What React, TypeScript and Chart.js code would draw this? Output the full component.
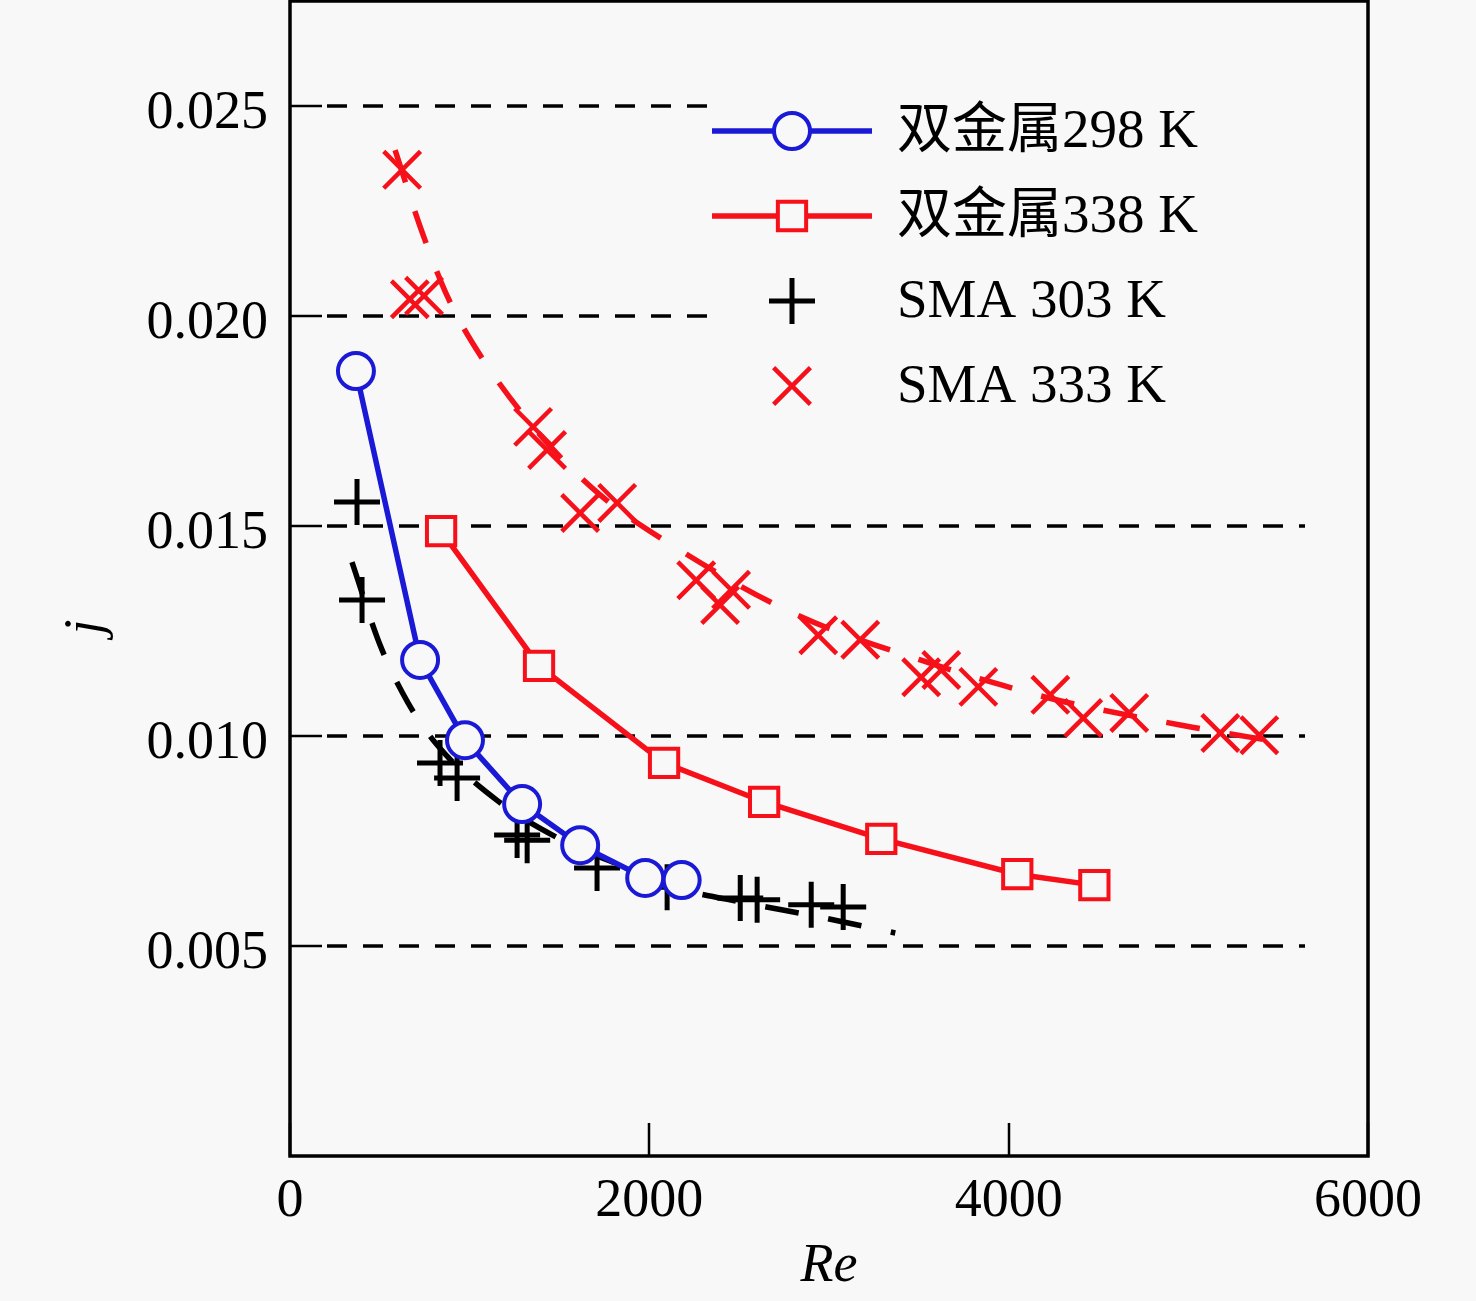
import { useEffect, useRef } from "react";
import { Chart, registerables } from "chart.js";
import { drawPoint } from "chart.js/helpers";

Chart.register(...registerables);

const BG = "#f8f8f8";
const BLUE = "#1a1ad6";
const RED = "#f5101a";
const SERIF = '"Liberation Serif", "Times New Roman", serif';
const LEGEND_FONT = '"Liberation Serif", "Noto Sans CJK SC", serif';
const FONT_SIZE = 54;

// tick labels
const xTicks = [0, 2000, 4000, 6000];
const yTicks = [0.005, 0.01, 0.015, 0.02, 0.025];

// 双金属 298 K
const bimetal298Re = [367, 724, 974, 1292, 1615, 1977, 2180];
const bimetal298J = [0.01869, 0.01181, 0.0099, 0.00838, 0.0074, 0.00662, 0.00657];

// 双金属 338 K
const bimetal338Re = [841, 1386, 2082, 2639, 3291, 4048, 4477];
const bimetal338J = [0.01488, 0.01167, 0.00936, 0.00843, 0.00755, 0.00671, 0.00645];

// SMA 303 K
const sma303Re = [373, 401, 835, 930, 1264, 1320, 1709, 2099, 2506, 2600, 2901, 3079];
const sma303J = [0.01557, 0.01324, 0.00936, 0.009, 0.00764, 0.00752, 0.00686, 0.0064, 0.00614, 0.0061, 0.00598, 0.00593];

// SMA 333 K
const sma333Re = [624, 667, 746, 1353, 1431, 1615, 1821, 2261, 2394, 2455, 2940, 3174, 3513, 3625, 3831, 4232, 4415, 4671, 5178, 5395];
const sma333J = [0.02348, 0.0204, 0.02048, 0.01736, 0.01681, 0.01531, 0.01555, 0.01371, 0.01312, 0.01348, 0.0124, 0.01229, 0.0114, 0.01157, 0.01117, 0.01098, 0.01043, 0.01055, 0.01007, 0.01002];

// dashed fit curves
const fit303Re = [345, 501, 657, 824, 1158, 1514, 1876, 2155, 2545, 2923, 3369];
const fit303J = [0.01414, 0.01217, 0.01079, 0.00976, 0.00845, 0.00752, 0.00686, 0.00638, 0.00602, 0.00571, 0.00531];
const fit333Re = [585, 735, 880, 1058, 1392, 1726, 2105, 2812, 3508, 3964, 4315, 5022, 5501];
const fit333J = [0.02395, 0.022, 0.02043, 0.01907, 0.01717, 0.01574, 0.0146, 0.0129, 0.01181, 0.01121, 0.01081, 0.01021, 0.00986];

const toPoints = (xs: number[], ys: number[]) => xs.map((x, i) => ({ x, y: ys[i] }));

const frame = {
  id: "frame",
  beforeDatasetsDraw(chart: any) {
    const { ctx, chartArea } = chart;
    const { left, right, bottom } = chartArea;
    const yScale = chart.scales.y;
    const xScale = chart.scales.x;
    ctx.save();
    ctx.strokeStyle = "#000";
    // dashed horizontal lines
    ctx.lineWidth = 3.5;
    ctx.setLineDash([20, 16]);
    yScale.ticks.forEach((t: any) => {
      const y = Math.round(yScale.getPixelForValue(t.value));
      ctx.beginPath();
      ctx.moveTo(left + 37, y);
      ctx.lineTo(right - 63, y);
      ctx.stroke();
    });
    ctx.setLineDash([]);
    // inward ticks
    ctx.lineWidth = 2.5;
    yScale.ticks.forEach((t: any) => {
      const y = Math.round(yScale.getPixelForValue(t.value));
      ctx.beginPath();
      ctx.moveTo(left, y);
      ctx.lineTo(left + 32, y);
      ctx.stroke();
    });
    xScale.ticks.forEach((t: any) => {
      const x = Math.round(xScale.getPixelForValue(t.value));
      ctx.beginPath();
      ctx.moveTo(x, bottom);
      ctx.lineTo(x, bottom - 33);
      ctx.stroke();
    });
    // legend background covers the grid
    ctx.fillStyle = BG;
    ctx.fillRect(708, 72, 604, 356);

    // y-axis title, sits a little below the middle in the original
    ctx.translate(87, 627);
    ctx.rotate(-Math.PI / 2);
    ctx.fillStyle = "#000";
    ctx.font = `italic ${FONT_SIZE}px ${SERIF}`;
    ctx.textAlign = "center";
    ctx.textBaseline = "middle";
    ctx.fillText("j", 0, 0);
    ctx.restore();
  },
  afterDatasetsDraw(chart: any) {
    const { ctx, chartArea } = chart;
    ctx.save();
    ctx.strokeStyle = "#000";
    ctx.lineWidth = 3.5;
    ctx.strokeRect(chartArea.left, chartArea.top, chartArea.right - chartArea.left, chartArea.bottom - chartArea.top);

    // legend: line sample with the marker in the middle
    const items = chart.data.datasets.filter((d: any) => !d.hideInLegend);
    items.forEach((ds: any, i: number) => {
      const y = 131 + i * 85;
      if (ds.showLine) {
        ctx.setLineDash([]);
        ctx.strokeStyle = ds.borderColor;
        ctx.lineWidth = ds.borderWidth;
        ctx.beginPath();
        ctx.moveTo(712, y);
        ctx.lineTo(872, y);
        ctx.stroke();
      }
      ctx.strokeStyle = ds.pointBorderColor;
      ctx.fillStyle = ds.pointBackgroundColor;
      ctx.lineWidth = ds.pointBorderWidth;
      drawPoint(ctx, { pointStyle: ds.pointStyle, radius: ds.pointRadius, borderWidth: ds.pointBorderWidth, rotation: 0 }, 792, y);
      ctx.fillStyle = "#000";
      ctx.font = `${FONT_SIZE + 1}px ${LEGEND_FONT}`;
      ctx.textBaseline = "middle";
      ctx.textAlign = "left";
      ctx.fillText(ds.label, 897, y + 2);
    });
    ctx.restore();
  },
};

export default function App() {
  const canvasRef = useRef<HTMLCanvasElement>(null);
  const chartRef = useRef<Chart | null>(null);

  useEffect(() => {
    if (!canvasRef.current) return;
    if (chartRef.current) chartRef.current.destroy();

    const tickFont = { family: SERIF, size: FONT_SIZE };
    const titleFont = { family: SERIF, size: FONT_SIZE, style: "italic" as const };

    chartRef.current = new Chart(canvasRef.current, {
      type: "scatter",
      data: {
        datasets: [
          {
            label: "双金属298 K",
            data: toPoints(bimetal298Re, bimetal298J),
            showLine: true,
            borderColor: BLUE,
            borderWidth: 5.5,
            pointStyle: "circle",
            pointRadius: 18,
            pointBorderWidth: 4,
            pointBorderColor: BLUE,
            pointBackgroundColor: BG,
          },
          {
            label: "双金属338 K",
            data: toPoints(bimetal338Re, bimetal338J),
            showLine: true,
            borderColor: RED,
            borderWidth: 5.5,
            pointStyle: "rect",
            pointRadius: 20,
            pointBorderWidth: 4,
            pointBorderColor: RED,
            pointBackgroundColor: BG,
          },
          {
            label: "SMA 303 K",
            data: toPoints(sma303Re, sma303J),
            showLine: false,
            pointStyle: "cross",
            pointRadius: 23,
            pointBorderWidth: 5,
            pointBorderColor: "#000",
            pointBackgroundColor: "#000",
          },
          {
            label: "SMA 333 K",
            data: toPoints(sma333Re, sma333J),
            showLine: false,
            pointStyle: "crossRot",
            pointRadius: 26,
            pointBorderWidth: 4.5,
            pointBorderColor: RED,
            pointBackgroundColor: RED,
          },
          {
            label: "fit 303",
            hideInLegend: true,
            data: toPoints(fit303Re, fit303J),
            showLine: true,
            borderColor: "#000",
            borderWidth: 5.5,
            borderDash: [34, 30],
            cubicInterpolationMode: "monotone",
            pointRadius: 0,
          },
          {
            label: "fit 333",
            hideInLegend: true,
            data: toPoints(fit333Re, fit333J),
            showLine: true,
            borderColor: RED,
            borderWidth: 5.5,
            borderDash: [34, 30],
            cubicInterpolationMode: "monotone",
            pointRadius: 0,
          },
        ] as any,
      },
      options: {
        animation: false,
        responsive: true,
        maintainAspectRatio: false,
        layout: { autoPadding: false, padding: { top: 1, right: 108, bottom: 0, left: 0 } },
        plugins: {
          legend: { display: false },
          tooltip: { enabled: false },
        },
        scales: {
          x: {
            type: "linear",
            min: 0,
            max: 6000,
            afterBuildTicks: (s: any) => {
              s.ticks = xTicks.map((v) => ({ value: v }));
            },
            afterFit: (s: any) => {
              s.height = 145;
              s.paddingLeft = 0;
              s.paddingRight = 0;
            },
            grid: { display: false, drawTicks: false },
            border: { display: false },
            ticks: {
              font: tickFont,
              color: "#000",
              padding: 13,
              maxRotation: 0,
              autoSkip: false,
              callback: (v: any) => String(v),
            },
            title: { display: true, text: "Re", font: titleFont, color: "#000", padding: { top: 0, bottom: 2 } },
          },
          y: {
            type: "linear",
            min: 0,
            max: 0.0275,
            afterBuildTicks: (s: any) => {
              s.ticks = yTicks.map((v) => ({ value: v }));
            },
            afterFit: (s: any) => {
              s.width = 290;
              s.paddingTop = 0;
              s.paddingBottom = 0;
            },
            grid: { display: false, drawTicks: false },
            border: { display: false },
            ticks: {
              font: tickFont,
              color: "#000",
              padding: 22,
              labelOffset: 8,
              autoSkip: false,
              callback: (v: any) => Number(v).toFixed(3),
            },
            title: { display: false },
          },
        },
      },
      plugins: [frame],
    });

    return () => {
      if (chartRef.current) {
        chartRef.current.destroy();
        chartRef.current = null;
      }
    };
  }, []);

  return (
    <div style={{ position: "absolute", left: 0, top: 0, width: 1476, height: 1301, background: BG }}>
      <canvas ref={canvasRef} />
    </div>
  );
}
